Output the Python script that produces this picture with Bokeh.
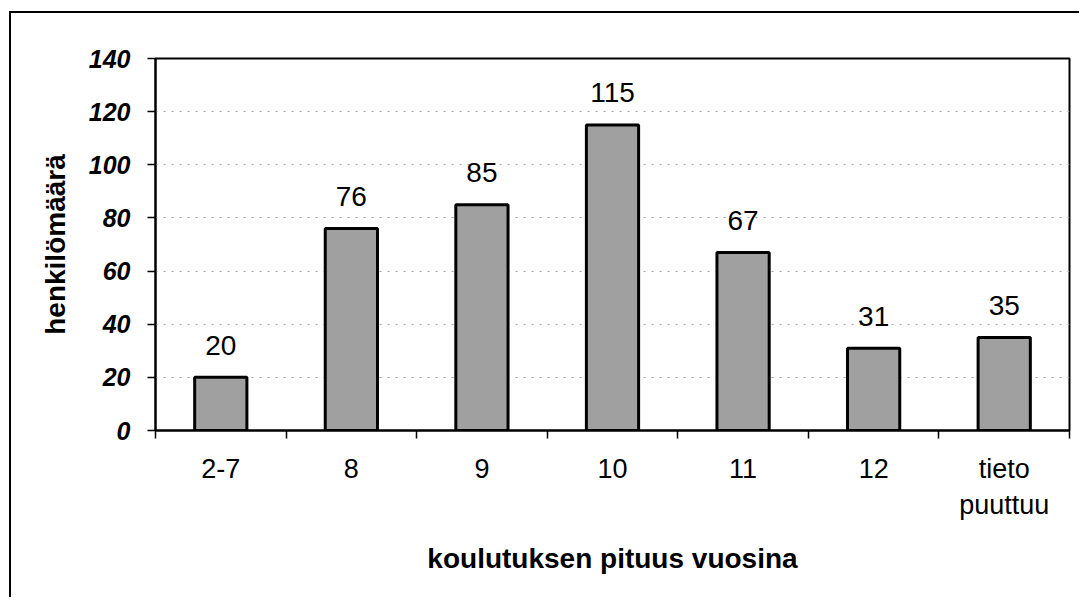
from bokeh.plotting import figure
from bokeh.models import FixedTicker, ColumnDataSource, Range1d
from bokeh.embed import file_html
from bokeh.resources import INLINE
from bokeh.core.properties import value

categories = ["2-7", "8", "9", "10", "11", "12", "tieto\npuuttuu"]
counts = [20, 76, 85, 115, 67, 31, 35]
y_ticks = [0, 20, 40, 60, 80, 100, 120, 140]
x_title = "koulutuksen pituus vuosina"
y_title = "henkilömäärä"

FONT = "Liberation Sans"

xs = [i + 0.5 for i in range(len(categories))]
src = ColumnDataSource(dict(x=xs, top=counts, label=[str(c) for c in counts]))

# canvas placed at page (11, 13) via margin + 2px border
p = figure(width=1070, height=586, output_backend="svg", toolbar_location=None,
           x_range=Range1d(0, len(categories)), y_range=Range1d(0, 140),
           min_border_left=144, min_border_right=12, min_border_top=45,
           min_border_bottom=169, background_fill_color="white",
           border_fill_color="white")
p.styles = {"margin-left": "9px", "margin-top": "11px",
            "border-left": "2px solid black", "border-top": "2px solid black"}

p.outline_line_color = "black"
p.outline_line_width = 2

# y axis
ya = p.yaxis[0]
ya.ticker = FixedTicker(ticks=y_ticks, minor_ticks=[])
ya.major_tick_out = 8
ya.major_tick_in = 0
ya.minor_tick_out = 0
ya.minor_tick_in = 0
ya.axis_line_width = 2
ya.major_tick_line_width = 1.5
ya.major_label_text_font = FONT
ya.major_label_text_font_style = "bold italic"
ya.major_label_text_font_size = "25px"
ya.major_label_text_color = "black"
ya.major_label_standoff = 17
ya.axis_label = y_title
ya.axis_label_text_font = FONT
ya.axis_label_text_font_style = "bold"
ya.axis_label_text_font_size = "28px"
ya.axis_label_text_color = "black"
ya.axis_label_standoff = 15

# x axis
xa = p.xaxis[0]
xa.ticker = FixedTicker(ticks=xs, minor_ticks=list(range(len(categories) + 1)))
xa.major_label_overrides = {x: c for x, c in zip(xs, categories)}
xa.major_tick_out = 0
xa.major_tick_in = 0
xa.minor_tick_out = 8
xa.minor_tick_in = 0
xa.minor_tick_line_width = 1.5
xa.minor_tick_line_color = "black"
xa.axis_line_width = 2
xa.major_label_text_font = FONT
xa.major_label_text_font_size = "27px"
xa.major_label_text_color = "black"
xa.major_label_standoff = 15
xa.axis_label = x_title
xa.axis_label_text_font = FONT
xa.axis_label_text_font_style = "bold"
xa.axis_label_text_font_size = "28px"
xa.axis_label_text_color = "black"
xa.axis_label_standoff = 20

# grid
p.xgrid.visible = False
p.ygrid.ticker = FixedTicker(ticks=y_ticks[1:-1])
p.ygrid.grid_line_color = "#a8a8a8"
p.ygrid.grid_line_dash = "2 6"
p.ygrid.grid_line_width = 1

p.vbar(x="x", top="top", bottom=0, width=0.4, source=src,
       fill_color="#a0a0a0", line_color="black", line_width=3)

p.text(x="x", y="top", text="label", source=src, y_offset=-32,
       text_align="center", text_baseline="alphabetic",
       text_font=value(FONT), text_font_size="28px", text_color="black")

open("out.html", "w").write(file_html(p, INLINE))
